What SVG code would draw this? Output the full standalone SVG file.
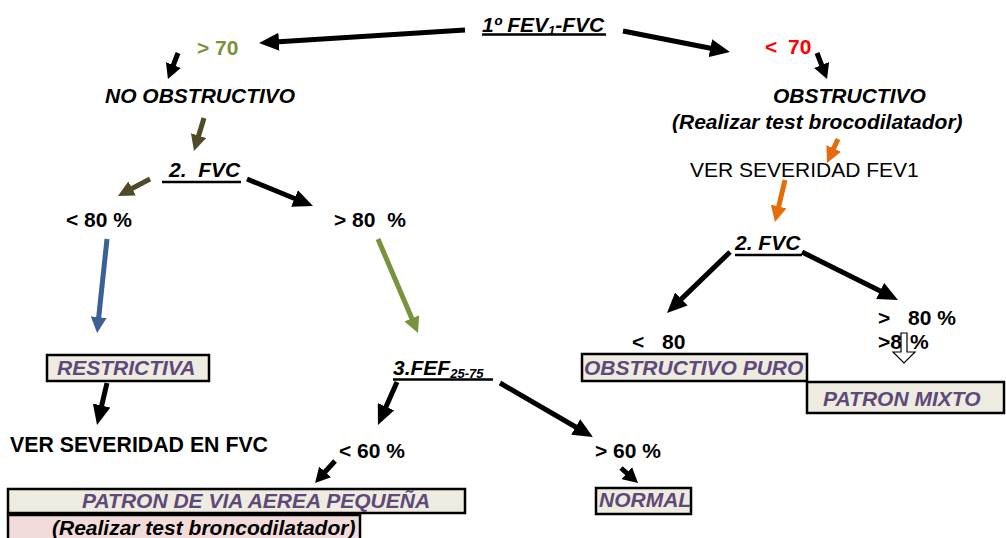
<svg xmlns="http://www.w3.org/2000/svg" width="1006" height="538" viewBox="0 0 1006 538">
<style>
text{font-family:"Liberation Sans",Arial,sans-serif;font-size:21px;font-weight:bold;white-space:pre}
.it{font-style:italic}
.nw{font-weight:normal}
.pu{fill:#5F497A;font-style:italic}
.box{fill:#EEECE1;stroke:#000;stroke-width:2.5}
.ul{stroke:#000;stroke-width:2.5}
.a{fill:none;stroke-width:5;stroke-linecap:butt}
.k{stroke:#000;marker-end:url(#hk)}
.ks{stroke:#000;marker-end:url(#hks)}
.ol{stroke:#4F4A2A;marker-end:url(#ho)}
.bl{stroke:#3A6096;marker-end:url(#hb)}
.gr{stroke:#77933C;marker-end:url(#hg)}
.or{stroke:#E46C0A;marker-end:url(#hor)}
</style>
<defs>
<marker id="hk" markerUnits="userSpaceOnUse" markerWidth="20" markerHeight="18" refX="8" refY="9" orient="auto" viewBox="0 0 20 18"><path d="M0,0L20,9L0,18z" fill="#000"/></marker>
<marker id="hks" markerUnits="userSpaceOnUse" markerWidth="15" markerHeight="16" refX="6" refY="8" orient="auto" viewBox="0 0 15 16"><path d="M0,0L15,8L0,16z" fill="#000"/></marker>
<marker id="ho" markerUnits="userSpaceOnUse" markerWidth="16" markerHeight="16" refX="6" refY="8" orient="auto" viewBox="0 0 16 16"><path d="M0,0L16,8L0,16z" fill="#4F4A2A"/></marker>
<marker id="hb" markerUnits="userSpaceOnUse" markerWidth="16" markerHeight="16" refX="6" refY="8" orient="auto" viewBox="0 0 16 16"><path d="M0,0L16,8L0,16z" fill="#3A6096"/></marker>
<marker id="hg" markerUnits="userSpaceOnUse" markerWidth="16" markerHeight="16" refX="6" refY="8" orient="auto" viewBox="0 0 16 16"><path d="M0,0L16,8L0,16z" fill="#77933C"/></marker>
<marker id="hor" markerUnits="userSpaceOnUse" markerWidth="16" markerHeight="16" refX="6" refY="8" orient="auto" viewBox="0 0 16 16"><path d="M0,0L16,8L0,16z" fill="#E46C0A"/></marker>
</defs>
<rect width="1006" height="538" fill="#fff"/>

<g id="connectors">
<line class="a k" x1="465" y1="30" x2="271" y2="42.2"/>
<line class="a k" x1="623" y1="31" x2="718.2" y2="49.7"/>
<line class="a ks" x1="178" y1="53" x2="171.2" y2="70.6"/>
<line class="a ks" x1="817" y1="53" x2="823.8" y2="70.6"/>
<line class="a ol" x1="204" y1="118" x2="196.9" y2="141.4"/>
<line class="a ol" x1="150" y1="179" x2="126.8" y2="191.3"/>
<line class="a k" x1="247" y1="179" x2="301.9" y2="201.5"/>
<line class="a bl" x1="107" y1="239" x2="98.1" y2="323.1"/>
<line class="a gr" x1="378" y1="239" x2="414.1" y2="323.8"/>
<line class="a k" x1="107" y1="383" x2="99.8" y2="413.3"/>
<line class="a k" x1="397" y1="382" x2="382.8" y2="414"/>
<line class="a k" x1="500" y1="383" x2="582.6" y2="431"/>
<line class="a ks" x1="335" y1="461" x2="321.1" y2="476.3"/>
<line class="a ks" x1="621" y1="468" x2="631.3" y2="477.1"/>
<line class="a or" x1="838" y1="139" x2="831.2" y2="153.9"/>
<line class="a or" x1="785" y1="180" x2="777.3" y2="212.3"/>
<line class="a k" x1="730" y1="252" x2="675.6" y2="304.6"/>
<line class="a k" x1="802" y1="252" x2="887.3" y2="294.6"/>
</g>

<g id="n-title">
<text class="it" x="482" y="32">1º FEV<tspan font-size="13" dy="3">1</tspan><tspan dy="-3">-FVC</tspan></text>
<line class="ul" x1="482" y1="34.5" x2="606" y2="34.5" stroke-width="3"/>
</g>
<g id="n-gt70"><text x="197" y="55" fill="#77933C">&gt; 70</text></g>
<g id="n-lt70"><text x="765" y="54" fill="#FF0000">&lt;</text><text x="788" y="54" fill="#FF0000">70</text></g>
<g id="n-noobs"><text class="it" x="105" y="103">NO OBSTRUCTIVO</text></g>
<g id="n-obs">
<text class="it" x="773" y="103">OBSTRUCTIVO</text>
<text class="it" x="672" y="129">(Realizar test brocodilatador)</text>
</g>
<g id="n-fvc-left">
<text class="it" x="169" y="177">2.  FVC</text>
<line class="ul" x1="162" y1="182" x2="241" y2="182"/>
</g>
<g id="n-lt80-left"><text x="66" y="227">&lt; 80 %</text></g>
<g id="n-gt80-left"><text x="334" y="227">&gt; 80  %</text></g>
<g id="n-restrictiva">
<rect class="box" x="47" y="355" width="162" height="26"/>
<text class="pu" x="57" y="375">RESTRICTIVA</text>
</g>
<g id="n-versev-fvc"><text x="10" y="452" style="font-size:21.3px">VER SEVERIDAD EN FVC</text></g>
<g id="n-fef">
<text class="it" x="393" y="375">3.FEF<tspan font-size="13" dy="3">25-75</tspan></text>
<line class="ul" x1="393" y1="379.5" x2="493" y2="379.5"/>
</g>
<g id="n-lt60"><text x="339" y="458">&lt; 60 %</text></g>
<g id="n-gt60"><text x="595" y="458">&gt; 60 %</text></g>
<g id="n-pequena">
<rect class="box" x="8" y="489" width="457" height="24"/>
<text class="pu" x="82" y="508">PATRON DE VIA AEREA PEQUEÑA</text>
</g>
<g id="n-bronco">
<rect x="8" y="515" width="352" height="30" fill="#F2DCDB" stroke="#000" stroke-width="2.5"/>
<text class="it" x="52" y="535">(Realizar test broncodilatador)</text>
</g>
<g id="n-normal">
<rect class="box" x="596" y="488" width="95" height="26"/>
<text class="pu" x="599" y="507">NORMAL</text>
</g>
<g id="n-versev-fev1"><text class="nw" x="690" y="177">VER SEVERIDAD FEV1</text></g>
<g id="n-fvc-right">
<text class="it" x="735" y="250">2. FVC</text>
<line class="ul" x1="735" y1="255" x2="802" y2="255"/>
</g>
<g id="n-lt80-right"><text x="632" y="349">&lt;</text><text x="662" y="349">80</text></g>
<g id="n-gt80-right">
<text x="878" y="325">&gt;</text><text x="908" y="325">80 %</text>
<text x="878" y="349">&gt;8</text><text x="910" y="349">%</text>
<polygon points="901,333 907,333 907,352 915,352 904,363 893,352 901,352" fill="#fff" stroke="#000" stroke-width="1.2"/>
</g>
<g id="n-obs-puro">
<rect class="box" x="582" y="354" width="225" height="27"/>
<text class="pu" x="584" y="375">OBSTRUCTIVO PURO</text>
</g>
<g id="n-mixto">
<rect class="box" x="807" y="382" width="197" height="31"/>
<text class="pu" x="823" y="406">PATRON MIXTO</text>
</g>
</svg>
